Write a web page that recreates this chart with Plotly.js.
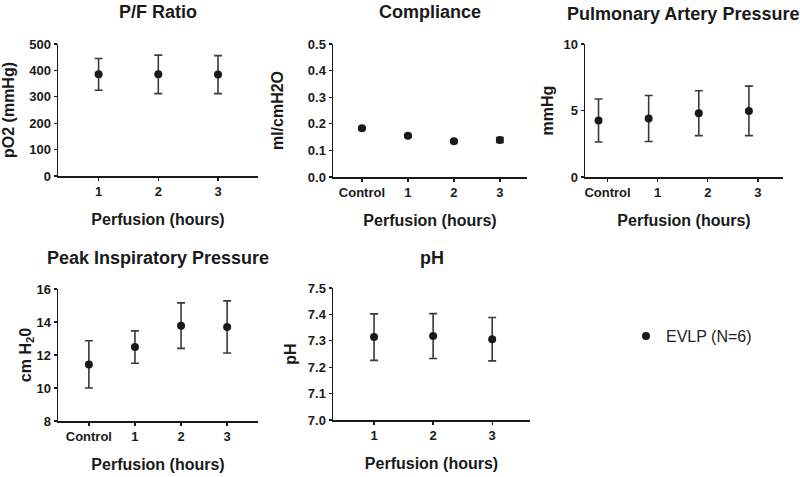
<!DOCTYPE html>
<html>
<head>
<meta charset="utf-8">
<script src="https://cdn.plot.ly/plotly-3.0.1.min.js"></script>
<style>html,body{margin:0;padding:0;background:#fff}#chart{width:800px;height:477px}</style>
</head>
<body>
<div id="chart"></div>
<script>
// ---- Data ----
const seriesName = "EVLP (N=6)";

const pfCategories = ["1", "2", "3"];
const pfMean = [385, 385, 384];
const pfErr = [60, 73, 72];

const compCategories = ["Control", "1", "2", "3"];
const compMean = [0.183, 0.155, 0.134, 0.139];
const compErr = [0.005, 0.005, 0.005, 0.009];

const papCategories = ["Control", "1", "2", "3"];
const papMean = [4.25, 4.4, 4.8, 4.97];
const papErr = [1.62, 1.73, 1.69, 1.86];

const pipCategories = ["Control", "1", "2", "3"];
const pipMean = [11.43, 12.48, 13.78, 13.7];
const pipErr = [1.43, 0.98, 1.38, 1.58];

const phCategories = ["1", "2", "3"];
const phMean = [7.314, 7.318, 7.306];
const phErr = [0.088, 0.085, 0.082];

const titles = ["P/F Ratio", "Compliance", "Pulmonary Artery Pressure", "Peak Inspiratory Pressure", "pH"];
const yTitles = ["pO2 (mmHg)", "ml/cmH2O", "mmHg", "cm H<sub>2</sub>0", "pH"];
const xTitle = "Perfusion (hours)";

// ---- Styling / layout helpers ----
const W = 800, H = 477;
const FONT = "Liberation Sans, Arial, Helvetica, sans-serif";
const INK = "#1a1a1a";
const px = v => v / W;
const py = v => 1 - v / H;

function trace(cats, mean, err, xa, ya, showleg, first, shift) {
  return {
    type: "scatter", mode: "markers",
    x: cats.map((_, i) => i + first + (shift || 0)), y: mean,
    xaxis: xa, yaxis: ya,
    name: seriesName, showlegend: !!showleg,
    marker: {color: INK, size: 8},
    error_y: {type: "data", array: err, visible: true, color: "#3a3a3a", thickness: 1.6, width: 4},
    hoverinfo: "x+y"
  };
}

// panels: [x0,x1] pixel, [ytop, ybottom] pixel
const panels = [
  {x: [58, 258], y: [44, 176], xr: [0.32, 3.67], yr: [0, 500], dtick: 100, cats: pfCategories, first: 1, so: 11},
  {x: [333, 527], y: [44, 177], xr: [-0.63, 3.59], yr: [0, 0.5], dtick: 0.1, cats: compCategories, first: 0, fmt: ".1f", so: 20},
  {x: [585, 783], y: [44, 177], xr: [-0.45, 3.5], yr: [0, 10], dtick: 5, cats: papCategories, first: 0, so: 6},
  {x: [58, 258], y: [289, 421], xr: [-0.67, 3.67], yr: [8, 16], dtick: 2, cats: pipCategories, first: 0, so: 1},
  {x: [333, 530], y: [288, 420], xr: [0.305, 3.64], yr: [7.0, 7.5], dtick: 0.1, cats: phCategories, first: 1, fmt: ".1f", so: 7}
];

const data = [
  trace(pfCategories, pfMean, pfErr, "x", "y", false, 1),
  trace(compCategories, compMean, compErr, "x2", "y2", false, 0),
  trace(papCategories, papMean, papErr, "x3", "y3", false, 0, -0.18),
  trace(pipCategories, pipMean, pipErr, "x4", "y4", false, 0),
  trace(phCategories, phMean, phErr, "x5", "y5", true, 1)
];

const layout = {
  width: W, height: H,
  margin: {l: 0, r: 0, t: 0, b: 0},
  paper_bgcolor: "#fff", plot_bgcolor: "#fff",
  font: {family: FONT, color: INK},
  showlegend: true,
  legend: {x: px(626), y: py(336), xanchor: "left", yanchor: "middle",
           font: {family: FONT, size: 16, color: "#222"}, bgcolor: "rgba(0,0,0,0)"},
  annotations: []
};

const titlePos = [[158, 12], [430, 12], [683, 14], [158, 258], [432, 258]];

panels.forEach((p, k) => {
  const n = k === 0 ? "" : String(k + 1);
  const tickvals = p.cats.map((_, i) => i + p.first);
  layout["xaxis" + n] = {
    domain: [px(p.x[0]), px(p.x[1])],
    anchor: "y" + n,
    range: p.xr,
    tickmode: "array", tickvals: tickvals, ticktext: p.cats,
    showgrid: false, zeroline: false,
    showline: true, linecolor: INK, linewidth: 1.5,
    ticks: "outside", ticklen: 3, tickwidth: 1.3, tickcolor: INK,
    tickfont: {family: FONT, size: 13, weight: 700, color: INK},
    title: {text: xTitle, font: {family: FONT, size: 16, weight: 700, color: INK}, standoff: 15},
    automargin: false, fixedrange: true
  };
  layout["yaxis" + n] = {
    domain: [py(p.y[1]), py(p.y[0])],
    anchor: "x" + n,
    range: p.yr,
    dtick: p.dtick, tick0: p.yr[0],
    tickformat: p.fmt || "",
    showgrid: false, zeroline: false,
    showline: true, linecolor: INK, linewidth: 1.5,
    ticks: "outside", ticklen: 3, tickwidth: 1.3, tickcolor: INK,
    tickfont: {family: FONT, size: 13, weight: 700, color: INK},
    title: {text: yTitles[k], font: {family: FONT, size: 16, weight: 700, color: INK}, standoff: p.so},
    automargin: false, fixedrange: true
  };
  layout.annotations.push({
    text: titles[k], xref: "paper", yref: "paper",
    x: px(titlePos[k][0]), y: py(titlePos[k][1]),
    xanchor: "center", yanchor: "middle", showarrow: false,
    font: {family: FONT, size: 18, weight: 700, color: INK}
  });
});

Plotly.newPlot("chart", data, layout, {displayModeBar: false, staticPlot: true});
</script>
</body>
</html>
